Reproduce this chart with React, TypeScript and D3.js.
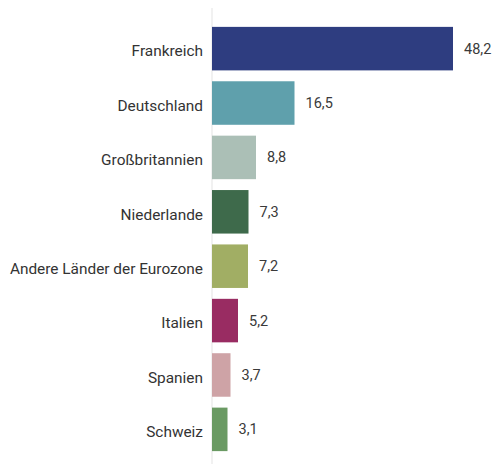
import { useEffect, useRef } from 'react';
import * as d3 from 'd3';

const countries = [
  'Frankreich',
  'Deutschland',
  'Großbritannien',
  'Niederlande',
  'Andere Länder der Eurozone',
  'Italien',
  'Spanien',
  'Schweiz',
];
const shares = [48.2, 16.5, 8.8, 7.3, 7.2, 5.2, 3.7, 3.1];
const barColors = [
  '#2e3d80',
  '#5fa0ac',
  '#abbfb6',
  '#3e6a4b',
  '#a1ae64',
  '#992c62',
  '#cea3a6',
  '#6a9a63',
];

export default function App() {
  const svgRef = useRef<SVGSVGElement>(null);

  useEffect(() => {
    const width = 493;
    const height = 464;
    const rows = countries.map((c, i) => ({ c, v: shares[i], color: barColors[i] }));

    const x = d3.scaleLinear().domain([0, 48.2]).range([212, 453]);
    const y = d3
      .scaleBand()
      .domain(countries)
      .range([16, 462])
      .padding(0.2);

    const svg = d3.select(svgRef.current);
    svg.selectAll('*').remove();
    svg.attr('width', width).attr('height', height);

    // axis line
    svg
      .append('line')
      .attr('x1', x(0))
      .attr('x2', x(0))
      .attr('y1', 8)
      .attr('y2', height)
      .attr('stroke', '#e3e3e3')
      .attr('stroke-width', 1);

    // bars
    svg
      .append('g')
      .selectAll('rect')
      .data(rows)
      .enter()
      .append('rect')
      .attr('x', x(0))
      .attr('y', d => y(d.c)!)
      .attr('width', d => x(d.v) - x(0))
      .attr('height', y.bandwidth())
      .attr('fill', d => d.color);

    const font = "Roboto, 'Liberation Sans', sans-serif";

    // category labels
    svg
      .append('g')
      .selectAll('text')
      .data(rows)
      .enter()
      .append('text')
      .attr('x', x(0) - 9)
      .attr('y', d => y(d.c)! + y.bandwidth() / 2)
      .attr('dy', '0.5em')
      .attr('text-anchor', 'end')
      .attr('font-family', font)
      .attr('font-size', 15.4)
      .attr('fill', '#333')
      .text(d => d.c);

    // value labels
    svg
      .append('g')
      .selectAll('text')
      .data(rows)
      .enter()
      .append('text')
      .attr('x', d => x(d.v) + 11)
      .attr('y', d => y(d.c)! + y.bandwidth() / 2)
      .attr('dy', '0.35em')
      .attr('font-family', font)
      .attr('font-size', 14.5)
      .attr('fill', '#3a3a3a')
      .text(d => d3.format('.1f')(d.v).replace('.', ','));
  }, []);

  return (
    <svg
      ref={svgRef}
      width={493}
      height={464}
      style={{ position: 'absolute', left: 0, top: 0, display: 'block' }}
    ></svg>
  );
}
